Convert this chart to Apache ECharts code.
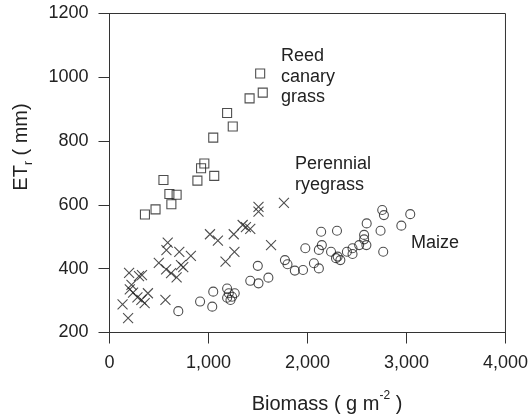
<!DOCTYPE html>
<html>
<head>
<meta charset="utf-8">
<script src="https://cdn.jsdelivr.net/npm/echarts@6/dist/echarts.min.js"></script>
<style>
  html, body { margin: 0; padding: 0; background: #fff; }
  #main { width: 531px; height: 415px; }
</style>
</head>
<body>
<div id="main"></div>
<script>
// values: [biomass g m-2, ETr mm]
const reedCanary = [
  [1522, 1012], [1548, 952], [1415, 934], [1188, 888], [1245, 846],
  [1048, 811], [958, 730], [925, 715], [1058, 691], [888, 676],
  [545, 678], [605, 634], [678, 632], [625, 602], [465, 586], [358, 570]
];

const ryegrass = [
  [1762, 606], [1505, 594], [1505, 579], [1345, 537], [1378, 530], [1422, 525],
  [1255, 508], [1015, 508], [1095, 488], [1632, 474], [1262, 453], [1172, 422],
  [588, 482], [575, 458], [705, 453], [822, 440], [498, 418], [722, 411],
  [745, 405], [572, 398], [622, 386], [678, 373], [198, 387], [298, 377],
  [328, 380], [222, 349], [205, 335], [238, 325], [282, 310], [322, 302],
  [388, 323], [355, 292], [132, 288], [565, 302], [188, 245]
];

const maize = [
  [695, 267], [915, 297], [1038, 281], [1048, 328], [1188, 338], [1205, 323],
  [1188, 309], [1238, 312], [1265, 323], [1222, 302], [1422, 362], [1505, 354],
  [1605, 372], [1498, 409], [1772, 427], [1798, 414], [1872, 394], [1955, 396],
  [1978, 464], [2065, 417], [2115, 401], [2138, 516], [2145, 474], [2115, 459],
  [2238, 453], [2298, 519], [2288, 433], [2305, 438], [2332, 427], [2398, 453],
  [2455, 446], [2455, 464], [2522, 474], [2572, 506], [2572, 492], [2595, 474],
  [2598, 542], [2738, 519], [2755, 584], [2772, 568], [2765, 453], [2948, 535],
  [3038, 571]
];

const seriesNames = ['Reed canary grass', 'Perennial ryegrass', 'Maize'];

const myChart = echarts.init(document.getElementById('main'));

const FONT = '"Liberation Sans", Arial, sans-serif';
const INK = '#222';
const LINE = '#333';

function markerStyle() {
  return { color: 'none', borderColor: INK, borderWidth: 1.1 };
}

const options = {
  animation: false,
  textStyle: { fontFamily: FONT },
  grid: {
    left: 109.5, right: 21.5, top: 13.5, bottom: 82.5,
    show: true, borderColor: LINE, borderWidth: 1
  },
  xAxis: {
    type: 'value',
    min: 0, max: 4000, interval: 1000,
    axisLine: { show: true, lineStyle: { color: LINE, width: 1 } },
    axisTick: { show: true, length: 11, lineStyle: { color: LINE } },
    splitLine: { show: false },
    axisLabel: {
      margin: 22, fontSize: 18, color: INK, fontFamily: FONT,
      formatter: v => v === 0 ? '0' : v.toLocaleString('en-US')
    }
  },
  yAxis: {
    type: 'value',
    min: 200, max: 1200, interval: 200,
    axisLine: { show: true, lineStyle: { color: LINE, width: 1 } },
    axisTick: { show: true, length: 11, lineStyle: { color: LINE } },
    splitLine: { show: false },
    axisLabel: {
      margin: 21, fontSize: 18, color: INK, fontFamily: FONT,
      formatter: v => String(v)
    }
  },
  graphic: [
    {
      type: 'text', x: 327, y: 402,
      style: {
        text: '{a|Biomass ( g m}{s|-2}{a| )}',
        align: 'center', verticalAlign: 'middle',
        rich: {
          a: { fontSize: 20, fontFamily: FONT, fill: INK, lineHeight: 24, verticalAlign: 'bottom' },
          s: { fontSize: 12, fontFamily: FONT, fill: INK, lineHeight: 24, verticalAlign: 'top' }
        }
      }
    },
    {
      type: 'text', x: 23, y: 147, rotation: Math.PI / 2,
      style: {
        text: '{a|ET}{s|r}{a| ( mm)}',
        align: 'center', verticalAlign: 'middle',
        rich: {
          a: { fontSize: 20, fontFamily: FONT, fill: INK, lineHeight: 24, verticalAlign: 'top' },
          s: { fontSize: 12, fontFamily: FONT, fill: INK, lineHeight: 24, verticalAlign: 'bottom' }
        }
      }
    },
    {
      type: 'text', x: 281, y: 46,
      style: { text: 'Reed\ncanary\ngrass', fontSize: 18, fontFamily: FONT, fill: INK, lineHeight: 20.5 }
    },
    {
      type: 'text', x: 295, y: 154,
      style: { text: 'Perennial\nryegrass', fontSize: 18, fontFamily: FONT, fill: INK, lineHeight: 20.5 }
    },
    {
      type: 'text', x: 411, y: 233,
      style: { text: 'Maize', fontSize: 18, fontFamily: FONT, fill: INK, lineHeight: 20.5 }
    }
  ],
  series: [
    {
      name: seriesNames[0], type: 'scatter', data: reedCanary,
      symbol: 'rect', symbolSize: 9, itemStyle: markerStyle()
    },
    {
      name: seriesNames[1], type: 'scatter', data: ryegrass,
      symbol: 'path://M0,0L10,10M10,0L0,10', symbolSize: 10, itemStyle: markerStyle()
    },
    {
      name: seriesNames[2], type: 'scatter', data: maize,
      symbol: 'circle', symbolSize: 9, itemStyle: markerStyle()
    }
  ]
};

myChart.setOption(options);
</script>
</body>
</html>
